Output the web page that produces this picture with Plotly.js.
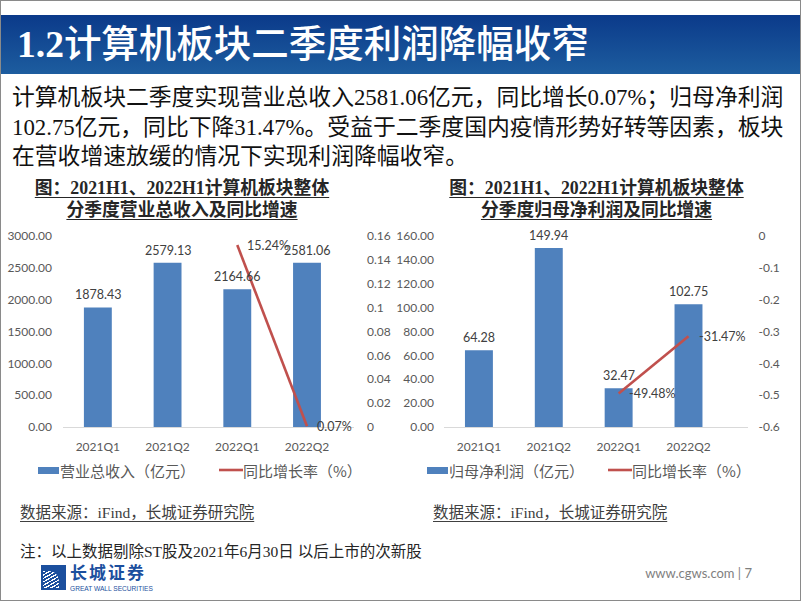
<!DOCTYPE html>
<html>
<head>
<meta charset="utf-8">
<script src="https://cdn.plot.ly/plotly-3.0.1.min.js"></script>
<style>
  body { margin: 0; background: #fff; }
  #page { position: relative; width: 802px; height: 602px; overflow: hidden; background: #fff; }
  .frame { position: absolute; left: 0; top: 0; width: 799px; height: 599px; border: 1px solid #8a8a8a; pointer-events: none; z-index: 5; }
  .bar { position: absolute; left: 1px; top: 15px; width: 799px; height: 59px; background: linear-gradient(#0b3a8a, #1d5d9f); }
  #chart { position: absolute; left: 0; top: 0; width: 802px; height: 602px; z-index: 2; }
  .txt { position: absolute; white-space: nowrap; z-index: 3; }
  .title { left: 17px; top: 25px; line-height: 40px; font-size: 37.5px; color: #fff; font-family: "Liberation Serif", "Noto Sans CJK SC", serif; font-weight: 500; }
  .title b { font-weight: bold; }
  .body { left: 12px; top: 83px; line-height: 29.5px; font-size: 22.8px; color: #111; font-family: "Liberation Serif", "Noto Sans CJK SC", serif; }
  .ctitle { line-height: 22.5px; font-size: 17.8px; font-weight: bold; color: #262626; text-align: center; text-decoration: underline; text-underline-offset: 3px; font-family: "Liberation Serif", "Noto Sans CJK SC", serif; width: 400px; }
  .src { top: 503px; line-height: 20px; font-size: 15.5px; color: #404040; text-decoration: underline; text-underline-offset: 3px; font-family: "Liberation Serif", "Noto Sans CJK SC", serif; }
  .note { left: 20px; top: 542px; line-height: 20px; font-size: 15.5px; color: #262626; font-family: "Liberation Serif", "Noto Sans CJK SC", serif; }
  .logo { position: absolute; left: 41px; top: 565px; width: 25px; height: 25px; background: #1b4f9e; z-index: 3; overflow: hidden; }
  .logo i { position: absolute; left: 2px; top: 6px; width: 16px; height: 17px; background: repeating-linear-gradient(150deg, #fff 0 1.2px, transparent 1.2px 3px); border-radius: 0 60% 0 0; }
  .brand { left: 70px; top: 563px; line-height: 18px; font-size: 17px; font-weight: bold; color: #1b4f9e; font-family: "Noto Sans CJK SC", sans-serif; letter-spacing: 2px; }
  .brand-en { left: 70px; top: 585px; line-height: 7px; font-size: 6.6px; color: #1b4f9e; font-family: "Liberation Sans", sans-serif; }
  .foot { right: 50px; top: 565px; line-height: 16px; font-size: 13px; color: #7f7f7f; font-family: Lato, "Open Sans", sans-serif; }
</style>
</head>
<body>
<div id="page">
  <div class="bar"></div>
  <div id="chart"></div>
  <div class="txt title"><b>1.2</b>计算机板块二季度利润降幅收窄</div>
  <div class="txt body">计算机板块二季度实现营业总收入2581.06亿元，同比增长0.07%；归母净利润<br>102.75亿元，同比下降31.47%。受益于二季度国内疫情形势好转等因素，板块<br>在营收增速放缓的情况下实现利润降幅收窄。</div>
  <div class="txt ctitle" style="left:-18px;top:176.75px;">图：2021H1、2022H1计算机板块整体<br>分季度营业总收入及同比增速</div>
  <div class="txt ctitle" style="left:396.5px;top:176.75px;">图：2021H1、2022H1计算机板块整体<br>分季度归母净利润及同比增速</div>
  <div class="txt src" style="left:20px;">数据来源：iFind，长城证券研究院</div>
  <div class="txt src" style="left:433px;">数据来源：iFind，长城证券研究院</div>
  <div class="txt note">注：以上数据剔除ST股及2021年6月30日 以后上市的次新股</div>
  <div class="logo"><i></i></div>
  <div class="txt brand">长城证券</div>
  <div class="txt brand-en">GREAT WALL SECURITIES</div>
  <div class="txt foot">www.cgws.com | 7</div>
  <div class="frame"></div>
</div>
<script>
// ---- data ----
const categories = ['2021Q1', '2021Q2', '2022Q1', '2022Q2'];
const revenue = [1878.43, 2579.13, 2164.66, 2581.06];      // 营业总收入（亿元）
const revenueYoY = [null, null, 0.1524, 0.0007];             // 同比增长率
const profit = [64.28, 149.94, 32.47, 102.75];               // 归母净利润（亿元）
const profitYoY = [null, null, -0.4948, -0.3147];            // 同比增长率
const revenueTicks = [0, 500, 1000, 1500, 2000, 2500, 3000];
const revenueYoYTicks = [0, 0.02, 0.04, 0.06, 0.08, 0.1, 0.12, 0.14, 0.16];
const revenueYoYTickText = ['0', '0.02', '0.04', '0.06', '0.08', '0.1', '0.12', '0.14', '0.16'];
const profitTicks = [0, 20, 40, 60, 80, 100, 120, 140, 160];
const profitYoYTicks = [0, -0.1, -0.2, -0.3, -0.4, -0.5, -0.6];
const profitYoYTickText = ['0', '-0.1', '-0.2', '-0.3', '-0.4', '-0.5', '-0.6'];
const legendLeft = ['营业总收入（亿元）', '同比增长率（%）'];
const legendRight = ['归母净利润（亿元）', '同比增长率（%）'];

// ---- style ----
const BLUE = '#4f81bd', RED = '#c0504d';
const W = 802, H = 602;
const px = x => x / W, py = y => 1 - y / H;
const tickFont = {family: 'Lato, "Open Sans", sans-serif', size: 12, color: '#595959'};
const labFont = {family: 'Lato, "Open Sans", sans-serif', size: 12.5, color: '#404040'};
const legFont = {family: '"Noto Sans CJK SC", sans-serif', size: 15, color: '#595959'};
const yDom = [py(427), py(236)];

const traces = [
  {type: 'bar', x: categories, y: revenue, xaxis: 'x', yaxis: 'y', marker: {color: BLUE}, hoverinfo: 'skip', showlegend: false, name: legendLeft[0]},
  {type: 'scatter', mode: 'lines', x: categories, y: revenueYoY, xaxis: 'x', yaxis: 'y2', line: {color: RED, width: 2.6}, hoverinfo: 'skip', showlegend: false, name: legendLeft[1]},
  {type: 'bar', x: categories, y: profit, xaxis: 'x2', yaxis: 'y3', marker: {color: BLUE}, hoverinfo: 'skip', showlegend: false, name: legendRight[0]},
  {type: 'scatter', mode: 'lines', x: categories, y: profitYoY, xaxis: 'x2', yaxis: 'y4', line: {color: RED, width: 2.6}, hoverinfo: 'skip', showlegend: false, name: legendRight[1]}
];

const annotations = [];
function barLabels(vals, xref, yref) {
  vals.forEach((v, i) => annotations.push({x: categories[i], y: v, xref, yref, text: v.toFixed(2),
    showarrow: false, yanchor: 'bottom', yshift: 3, font: labFont}));
}
function lineLabels(vals, xref, yref) {
  vals.forEach((v, i) => { if (v === null) return;
    annotations.push({x: categories[i], y: v, xref, yref, text: (v * 100).toFixed(2) + '%',
      showarrow: false, xanchor: 'left', yanchor: 'middle', xshift: 8, font: labFont}); });
}
barLabels(revenue, 'x', 'y');
lineLabels(revenueYoY, 'x', 'y2');
barLabels(profit, 'x2', 'y3');
lineLabels(profitYoY, 'x2', 'y4');

const shapes = [];
function legend(names, x0, xText1, xLine0, xText2) {
  shapes.push({type: 'rect', xref: 'paper', yref: 'paper', x0: px(x0), x1: px(x0 + 21), y0: py(474), y1: py(467), fillcolor: BLUE, line: {width: 0}});
  shapes.push({type: 'line', xref: 'paper', yref: 'paper', x0: px(xLine0), x1: px(xLine0 + 24), y0: py(470), y1: py(470), line: {color: RED, width: 2.6}});
  annotations.push({xref: 'paper', yref: 'paper', x: px(xText1), y: py(470), text: names[0], showarrow: false, xanchor: 'left', yanchor: 'middle', font: legFont});
  annotations.push({xref: 'paper', yref: 'paper', x: px(xText2), y: py(470), text: names[1], showarrow: false, xanchor: 'left', yanchor: 'middle', font: legFont});
}
legend(legendLeft, 38, 58, 219, 241);
legend(legendRight, 427, 447, 608, 630);

const xCommon = {type: 'category', categoryorder: 'array', showline: true, linecolor: '#d9d9d9', linewidth: 1,
  ticks: '', showgrid: false, zeroline: false, tickfont: tickFont, ticklabelstandoff: 9, fixedrange: true};
const yCommon = {showgrid: false, zeroline: false, showline: false, ticks: '', tickfont: tickFont, fixedrange: true};

const layout = {
  width: W, height: H, margin: {l: 0, r: 0, t: 0, b: 0},
  paper_bgcolor: 'rgba(0,0,0,0)', plot_bgcolor: 'rgba(0,0,0,0)',
  bargap: 0.6, showlegend: false,
  xaxis: Object.assign({}, xCommon, {domain: [px(63), px(354)], anchor: 'y', categoryarray: categories}),
  yaxis: Object.assign({}, yCommon, {domain: yDom, anchor: 'x', range: [0, 3000], tickvals: revenueTicks,
    ticktext: revenueTicks.map(v => v.toFixed(2)), ticklabelstandoff: 10}),
  yaxis2: Object.assign({}, yCommon, {overlaying: 'y', side: 'right', anchor: 'x', range: [0, 0.16],
    tickvals: revenueYoYTicks, ticktext: revenueYoYTickText, ticklabelstandoff: 12}),
  xaxis2: Object.assign({}, xCommon, {domain: [px(444), px(747.5)], anchor: 'y3', categoryarray: categories}),
  yaxis3: Object.assign({}, yCommon, {domain: yDom, anchor: 'x2', range: [0, 160], tickvals: profitTicks,
    ticktext: profitTicks.map(v => v.toFixed(2)), ticklabelstandoff: 9}),
  yaxis4: Object.assign({}, yCommon, {overlaying: 'y3', side: 'right', anchor: 'x2', range: [-0.6, 0],
    tickvals: profitYoYTicks, ticktext: profitYoYTickText, ticklabelstandoff: 10}),
  annotations, shapes
};

Plotly.newPlot('chart', traces, layout, {staticPlot: true, displayModeBar: false});
</script>
</body>
</html>
